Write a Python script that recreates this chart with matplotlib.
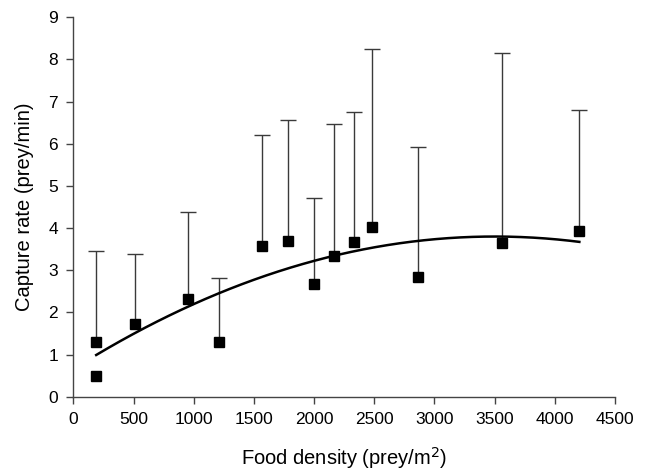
import matplotlib.pyplot as plt
import numpy as np

plt.rcParams['font.family'] = ['Liberation Sans', 'DejaVu Sans']

# food density (prey/m2) and mean capture rate (prey/min)
density = [190, 190, 512, 956, 1213, 1565, 1784, 2000, 2166, 2329, 2484, 2866, 3564, 4204]
capture = [1.30, 0.49, 1.72, 2.33, 1.30, 3.58, 3.69, 2.67, 3.33, 3.66, 4.03, 2.83, 3.65, 3.94]
# upper end of the error bars (None = no bar drawn)
upper = [3.46, None, 3.39, 4.39, 2.81, 6.22, 6.56, 4.72, 6.48, 6.76, 8.26, 5.93, 8.15, 6.80]

# quadratic fit: a + b*x + c*x^2
fit_coef = [0.658, 1.7955e-3, -2.565e-7]
fit_range = [190, 4204]

fig = plt.figure(figsize=(6.46, 4.71), dpi=100)
ax = fig.add_axes([0.1135, 0.1577, 0.8385, 0.8055])

# upper error bars only (line from mean up to cap)
bx = [d for d, u in zip(density, upper) if u is not None]
by = [c for c, u in zip(capture, upper) if u is not None]
bu = [u for u in upper if u is not None]
ax.vlines(bx, by, bu, color='#3a3a3a', lw=1.0, zorder=2)
ax.plot(bx, bu, '_', color='#3a3a3a', markersize=12, markeredgewidth=1.0, zorder=2)

xf = np.linspace(fit_range[0], fit_range[1], 200)
yf = fit_coef[0] + fit_coef[1] * xf + fit_coef[2] * xf ** 2
ax.plot(xf, yf, color='black', lw=1.8, zorder=3)

ax.plot(density, capture, 's', color='black', markersize=7.5, zorder=4)

ax.set_xlim(0, 4500)
ax.set_ylim(0, 9)
ax.set_xticks(np.arange(0, 4501, 500))
ax.set_yticks(np.arange(0, 10, 1))
for s in ['top', 'right']:
    ax.spines[s].set_visible(False)
for s in ['left', 'bottom']:
    ax.spines[s].set_color('#444444')
    ax.spines[s].set_linewidth(1.0)
ax.tick_params(direction='out', length=5, width=1.0, color='#444444', labelsize=12.5, pad=6)

ax.set_xlabel('Food density (prey/m$^2$)', fontsize=14.5, labelpad=13)
ax.set_ylabel('Capture rate (prey/min)', fontsize=14.5, labelpad=10)

fig.savefig('out.png', dpi=100)
